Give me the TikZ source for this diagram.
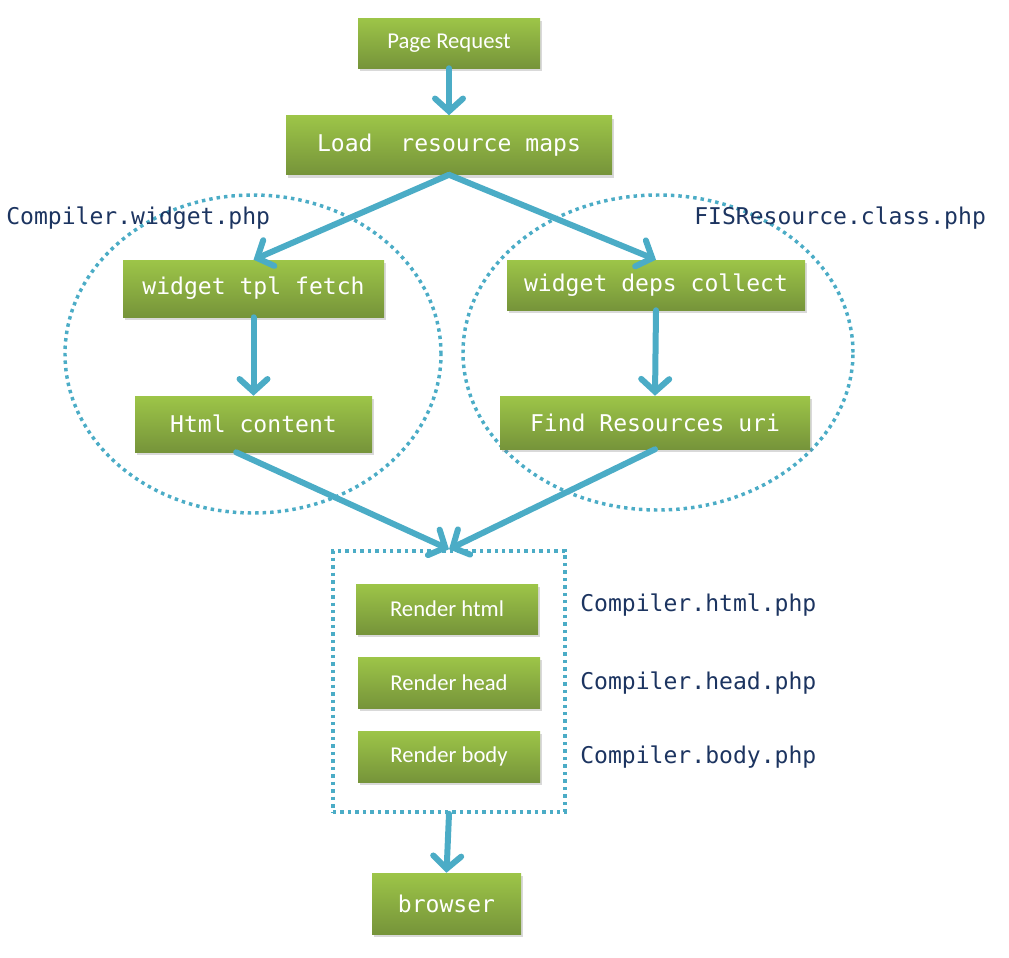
\documentclass[tikz,border=0pt]{standalone}
\usepackage{fontspec}
\setmainfont{Carlito}
\newfontfamily\codefont{DejaVu Sans Mono}
\usetikzlibrary{shapes.geometric,arrows.meta,shadows}

\definecolor{flowteal}{RGB}{75,172,198}
\definecolor{boxtop}{RGB}{157,197,72}
\definecolor{boxbot}{RGB}{118,148,58}
\definecolor{labnavy}{RGB}{28,52,96}

\begin{document}
\begin{tikzpicture}[x=0.75pt,y=0.75pt,yscale=-1,xscale=1,
    greenbox/.style={rectangle, top color=boxtop, bottom color=boxbot, text=white, inner sep=0pt,
      drop shadow={opacity=0.3, shadow xshift=1.5pt, shadow yshift=-2.5pt}},
    codebox/.style={greenbox, font=\codefont\fontsize{17.3}{20}\selectfont},
    sansbox/.style={greenbox, font=\fontsize{17}{20}\selectfont},
    flowarrow/.style={draw=flowteal, line width=4.5pt, line cap=round,
      -{Straight Barb[length=9.5pt,width=21pt,line cap=round]}},
    dotline/.style={draw=flowteal, line width=2.6pt, dash pattern=on 2.6pt off 3pt},
    filelabel/.style={text=labnavy, font=\codefont\fontsize{17.3}{20}\selectfont, anchor=west, inner sep=0pt}
  ]
\useasboundingbox (0,0) rectangle (1009,957);

%Dotted Groups
\node [dotline, ellipse, minimum width=282pt, minimum height=238.5pt] (tplgroup) at (253,354) {};
\node [dotline, ellipse, minimum width=292.5pt, minimum height=236.25pt] (depsgroup) at (658,352.5) {};
\node [dotline, rectangle, minimum width=174pt, minimum height=195.75pt] (renderbox) at (449,681.5) {};

%Flow Boxes
\node [sansbox, minimum width=136.5pt, minimum height=37.5pt] (req) at (449,43) {Page Request};
\node [codebox, minimum width=244.5pt, minimum height=44.25pt] (load) at (449,145) {Load\ \ resource maps};
\node [codebox, minimum width=195.75pt, minimum height=42.75pt] (tpl) at (253.5,288.5) {widget tpl fetch};
\node [codebox, minimum width=177.75pt, minimum height=42pt] (html) at (253.5,424) {Html content};
\node [codebox, minimum width=223.5pt, minimum height=37.5pt] (deps) at (656,285) {widget deps collect};
\node [codebox, minimum width=232.5pt, minimum height=39.75pt] (find) at (655,422.5) {Find Resources uri};
\node [sansbox, minimum width=136.5pt, minimum height=37.5pt] (rhtml) at (447,609) {Render html};
\node [sansbox, minimum width=136.5pt, minimum height=38.25pt] (rhead) at (449,682.5) {Render head};
\node [sansbox, minimum width=136.5pt, minimum height=38.25pt] (rbody) at (449,756.5) {Render body};
\node [codebox, minimum width=111.75pt, minimum height=45.75pt] (browser) at (446.5,903.5) {browser};

%File Labels
\node [filelabel] (lblwidget) at (6,218) {Compiler.widget.php};
\node [filelabel] (lblfis) at (694,218) {FISResource.class.php};
\node [filelabel] (lblhtml) at (580,605) {Compiler.html.php};
\node [filelabel] (lblhead) at (580,683) {Compiler.head.php};
\node [filelabel] (lblbody) at (580,757) {Compiler.body.php};

%Straight Lines
\draw [flowarrow] (req.south) -- (load.north);
\draw [flowarrow] (load.south) -- (tpl.north);
\draw [flowarrow] (load.south) -- (deps.north);
\draw [flowarrow] (tpl.south) -- (html.north);
\draw [flowarrow] (deps.south) -- (find.north);
\draw [flowarrow] ([xshift=-13pt]html.south) -- (renderbox.north);
\draw [flowarrow] (find.south) -- (renderbox.north);
\draw [flowarrow] (renderbox.south) -- (browser.north);
\end{tikzpicture}
\end{document}
